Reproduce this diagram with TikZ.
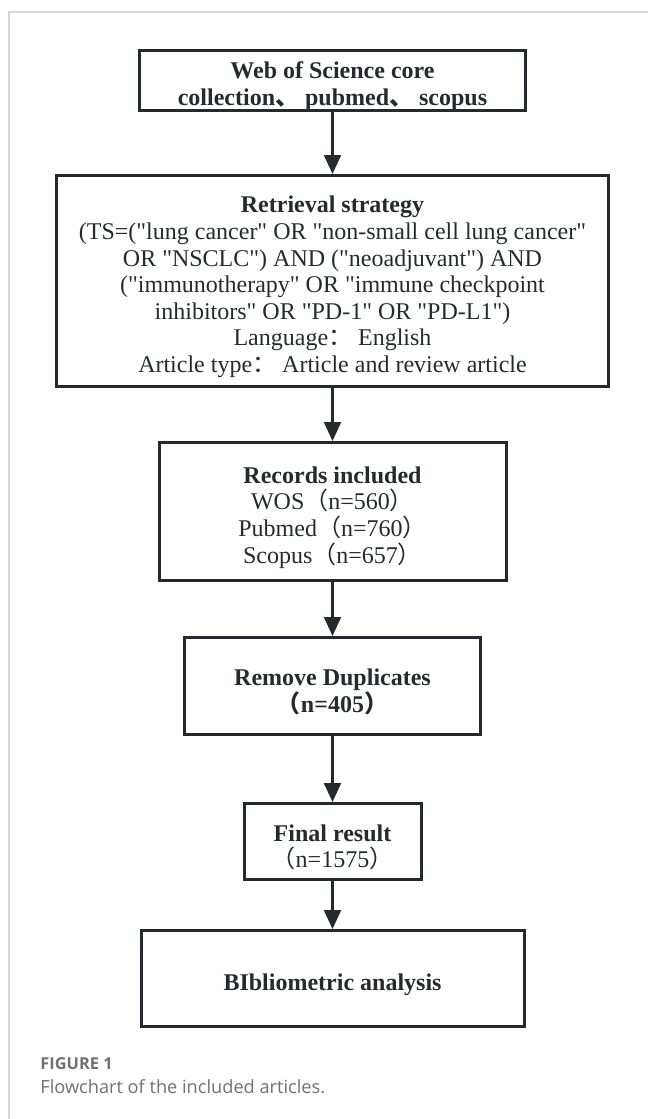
\documentclass[tikz,border=0pt]{standalone}
\usepackage{fontspec}
\setmainfont{Liberation Serif}[Ligatures=TeXOff]
\newfontfamily\cjk{Noto Sans CJK SC}
\newfontfamily\capfont{Open Sans}
\usetikzlibrary{arrows.meta}

\definecolor{boxline}{RGB}{38,42,46}
\definecolor{framegray}{RGB}{214,214,214}
\definecolor{capgray}{RGB}{112,112,112}

\begin{document}
\begin{tikzpicture}[x=0.5pt,y=-0.5pt]
\tikzstyle{every path}=[boxline]

\edef\boxfont{\noexpand\fontsize{12}{13.3}\noexpand\selectfont}
\tikzstyle{flowbox}=[draw=boxline,line width=1.5pt,inner sep=0pt]
\tikzstyle{boxtext}=[align=center,font=\boxfont,yshift=-3pt]
\tikzstyle{flowarrow}=[line width=1.1pt,
  -{Triangle[width=8.5pt,length=9.5pt]}]
\tikzstyle{captext}=[anchor=base west,inner sep=0pt,text=capgray]

\useasboundingbox (0,0) rectangle (648,1119);

%% Frame of the figure
\draw[framegray,line width=0.6pt] (9,1119) -- (9,12) -- (648,12);

%% Boxes of the flowchart
\node [flowbox,minimum width=193pt,minimum height=30pt,
  label={[boxtext]center:{\textbf{Web of Science core}\\
   \textbf{collection{\cjk 、} pubmed{\cjk 、} scopus}}}]
  (databases) at (332.5,80) {};

\node [flowbox,minimum width=276pt,minimum height=105.5pt,
  label={[boxtext]center:{\textbf{Retrieval strategy}\\
   (TS=("lung cancer" OR "non-small cell lung cancer"\\
   OR "NSCLC") AND ("neoadjuvant") AND\\
   ("immunotherapy" OR "immune checkpoint\\
   inhibitors" OR "PD-1" OR "PD-L1")\\
   Language{\cjk ：} English\\
   Article type{\cjk ：} Article and review article}}]
  (strategy) at (332.5,281) {};

\node [flowbox,minimum width=173.5pt,minimum height=69pt,
  label={[boxtext]center:{\textbf{Records included}\\
   WOS{\cjk （}n=560{\cjk ）}\\
   Pubmed{\cjk （}n=760{\cjk ）}\\
   Scopus{\cjk （}n=657{\cjk ）}}}]
  (records) at (332.5,511.5) {};

\node [flowbox,minimum width=148pt,minimum height=48.5pt,
  label={[boxtext]center:{\textbf{Remove Duplicates}\\
   \textbf{{\cjk （}n=405{\cjk ）}}}}]
  (duplicates) at (332.5,686) {};

\node [flowbox,minimum width=88.5pt,minimum height=38pt,
  label={[boxtext]center:{\textbf{Final result}\\
   {\cjk （}n=1575{\cjk ）}}}]
  (final) at (332.5,841.5) {};

\node [flowbox,minimum width=191.5pt,minimum height=48pt,
  label={[boxtext]center:{\textbf{BIbliometric analysis}}}]
  (analysis) at (332.5,978.5) {};

%% Arrows between the boxes
\draw[flowarrow] (databases.south) -- (strategy.north);
\draw[flowarrow] (strategy.south) -- (records.north);
\draw[flowarrow] (records.south) -- (duplicates.north);
\draw[flowarrow] (duplicates.south) -- (final.north);
\draw[flowarrow] (final.south) -- (analysis.north);

%% Caption
\node [captext,font=\capfont\bfseries\fontsize{8.2}{10}\selectfont]
  (figlabel) at (40,1069) {FIGURE 1};
\node [captext,font=\capfont\fontsize{9.1}{11}\selectfont]
  (figcaption) at (40,1093) {Flowchart of the included articles.};

\end{tikzpicture}
\end{document}
